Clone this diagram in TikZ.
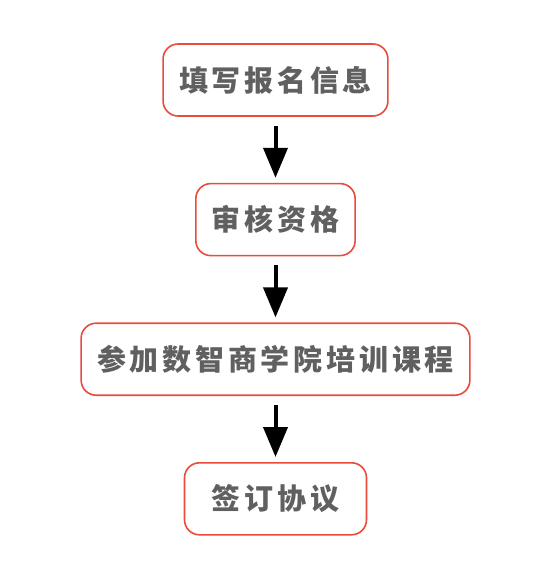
\documentclass[tikz,border=0pt]{standalone}
\usepackage{fontspec}
\usepackage{tikz}
\usetikzlibrary{arrows.meta,positioning}
\newfontfamily\cjk[LetterSpace=13]{Noto Sans CJK SC}
\definecolor{boxred}{RGB}{231,76,60}
\definecolor{textgray}{RGB}{96,96,96}

\begin{document}
\begin{tikzpicture}[x=1pt,y=1pt,
  stepbox/.style={draw=boxred,line width=1.6pt,rounded corners=15pt,fill=white,
    minimum height=72pt,inner xsep=16pt,text=textgray,font=\cjk\bfseries\fontsize{29}{33}\selectfont},
  flow/.style={-{Triangle[width=24pt,length=30pt]},line width=4pt,shorten <=9pt,shorten >=5pt},
  node distance=66pt]
\useasboundingbox (0,0) rectangle (554,-571);
\node[stepbox] (fill) at (275.5,-80) {填写报名信息};
\node[stepbox,below=of fill] (check) {审核资格};
\node[stepbox,below=of check] (train) {参加数智商学院培训课程};
\node[stepbox,below=of train,minimum width=182pt] (sign) {签订协议};
\draw[flow] (fill) -- (check);
\draw[flow] (check) -- (train);
\draw[flow] (train) -- (sign);
\end{tikzpicture}
\end{document}
